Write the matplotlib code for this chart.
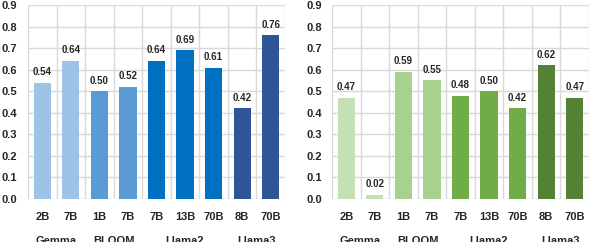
import matplotlib
matplotlib.use("Agg")
import matplotlib.pyplot as plt
import numpy as np

plt.rcParams['font.family'] = ['Liberation Sans', 'DejaVu Sans']
plt.rcParams['font.weight'] = 'bold'

sizes = ["2B", "7B", "1B", "7B", "7B", "13B", "70B", "8B", "70B"]
groups = ["Gemma", "BLOOM", "Llama2", "Llama3"]
group_counts = [2, 2, 3, 2]
left_values = [0.54, 0.64, 0.50, 0.52, 0.64, 0.69, 0.61, 0.42, 0.76]
right_values = [0.47, 0.02, 0.59, 0.55, 0.48, 0.50, 0.42, 0.62, 0.47]
blue_colors = ["#9DC3E6", "#5B9BD5", "#0070C0", "#2F5597"]
green_colors = ["#C5E0B4", "#A9D18E", "#70AD47", "#548235"]
yticks = [0.0, 0.1, 0.2, 0.3, 0.4, 0.5, 0.6, 0.7, 0.8, 0.9]

W, H = 592, 242
fig = plt.figure(figsize=(W / 100, H / 100), dpi=100)
TXT = "#262626"


def draw(ax_left_px, values, palette, ypad):
    ax = fig.add_axes([ax_left_px / W, (H - 199) / H, 257 / W, 194 / H])
    cols = []
    for c, n in zip(palette, group_counts):
        cols += [c] * n
    x = np.arange(len(values))
    ax.bar(x, values, width=0.6, color=cols, zorder=3)
    for xi, v in zip(x, values):
        ax.annotate(f"{v:.2f}", (xi, v), xytext=(0, 4), textcoords="offset points",
                    ha="center", va="bottom", fontsize=7, color=TXT,
                    fontweight="bold")
    ax.set_xlim(-0.5, len(values) - 0.5)
    ax.set_ylim(0, 0.9)
    ax.set_yticks(yticks)
    ax.set_yticklabels([f"{t:.1f}" for t in yticks], fontsize=8,
                       color=TXT, fontweight="bold")
    ax.set_xticks(x)
    ax.set_xticklabels(sizes, fontsize=8, color=TXT, fontweight="bold")
    ax.set_xticks(np.arange(-0.5, len(values)), minor=True)
    ax.tick_params(axis="both", which="both", length=0)
    ax.tick_params(axis="y", pad=ypad)
    ax.tick_params(axis="x", pad=9)
    ax.grid(axis="y", color="#D9D9D9", linewidth=1, zorder=0)
    ax.grid(axis="x", which="minor", color="#D9D9D9", linewidth=1, zorder=0)
    ax.grid(axis="x", which="major", visible=False)
    for s in ax.spines.values():
        s.set_visible(False)
    start = 0
    for g, n in zip(groups, group_counts):
        center = start + (n - 1) / 2
        xf = (ax_left_px + (center + 0.5) / len(values) * 257) / W
        fig.text(xf, (H - 244) / H, g, ha="center", va="baseline", fontsize=8,
                 color=TXT, fontweight="bold")
        start += n
    return ax


draw(28, left_values, blue_colors, 8)
draw(332, right_values, green_colors, 7.2)

fig.savefig("out.png", dpi=100)
